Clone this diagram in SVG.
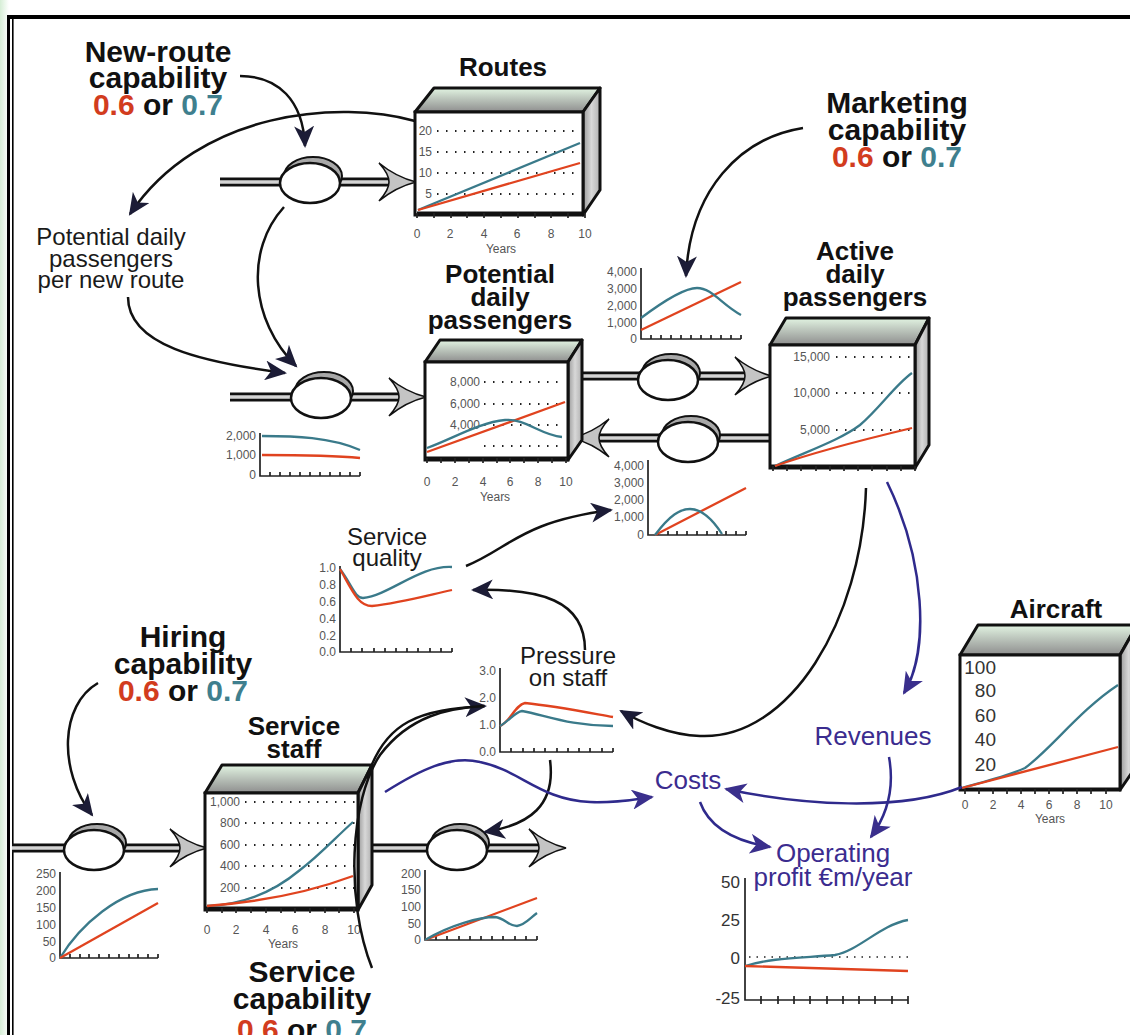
<svg xmlns="http://www.w3.org/2000/svg" width="1130" height="1035" viewBox="0 0 1130 1035">
<style>
text{font-family:"Liberation Sans",Arial,sans-serif}
.cap{font-weight:bold;font-size:30px;fill:#111;text-anchor:middle}
.ttl{font-weight:bold;font-size:26px;fill:#111;text-anchor:middle}
.lbl{font-size:24px;fill:#1a1a1a;text-anchor:middle}
.pl{font-size:26px;fill:#3b2c8f;text-anchor:middle}
.tk{font-size:12px;fill:#555;text-anchor:end}
.tx{font-size:12px;fill:#555;text-anchor:middle}
.tkb{font-size:19px;fill:#333;text-anchor:end}
.r{fill:#d23c1e}.b{fill:#3f7f8e}
.red{stroke:#e0431f;stroke-width:2.3;fill:none}
.blu{stroke:#3a7a8a;stroke-width:2.3;fill:none}
.ax{stroke:#222;stroke-width:1.7;fill:none}
.axb{stroke:#111;stroke-width:3;fill:none}
.dot{stroke:#222;stroke-width:2;stroke-dasharray:1.5 7.5;fill:none}
.arr{stroke:#111;stroke-width:2.5;fill:none}
.parr{stroke:#2f2a8c;stroke-width:2.5;fill:none}
.po{stroke:#111;stroke-width:9;fill:none}
.pi{stroke:#d4d4d4;stroke-width:3.5;fill:none}
.chev{fill:#c4c4c4;stroke:#111;stroke-width:1.6}
.vb{fill:#a8a8a8;stroke:#111;stroke-width:2}
.vf{fill:#fff;stroke:#111;stroke-width:2.5}
.front{fill:#fff;stroke:#111;stroke-width:3}
.top{fill:url(#gt);stroke:#111;stroke-width:3;stroke-linejoin:round}
.side{fill:url(#gs);stroke:#111;stroke-width:3;stroke-linejoin:round}
</style>
<defs>
<linearGradient id="gt" x1="0" y1="0" x2="0" y2="1"><stop offset="0" stop-color="#e2f4e2"/><stop offset="0.35" stop-color="#c4cfc4"/><stop offset="1" stop-color="#8e8e8e"/></linearGradient>
<linearGradient id="gs" x1="0" y1="0" x2="1" y2="0"><stop offset="0" stop-color="#9a9a9a"/><stop offset="0.5" stop-color="#d8d8d8"/><stop offset="1" stop-color="#b0b0b0"/></linearGradient>
<linearGradient id="gbg" x1="0" y1="0" x2="1" y2="0"><stop offset="0" stop-color="#d6eed6"/><stop offset="1" stop-color="#ffffff"/></linearGradient>
<marker id="ab" markerUnits="userSpaceOnUse" markerWidth="24" markerHeight="20" refX="20" refY="10" orient="auto"><path d="M0,0 L22,10 L0,20 L6,10 z" fill="#1c1c36"/></marker>
<marker id="ap" markerUnits="userSpaceOnUse" markerWidth="24" markerHeight="20" refX="20" refY="10" orient="auto"><path d="M0,0 L22,10 L0,20 L6,10 z" fill="#3a2f8c"/></marker>
</defs>
<rect width="1130" height="1035" fill="#fff"/>
<rect width="9" height="1035" fill="url(#gbg)"/>
<g id="frame">
<rect x="7" y="15" width="1123" height="4" fill="#000"/>
<rect x="7" y="15" width="3" height="1020" fill="#000"/>
<rect x="12" y="19" width="1.6" height="1016" fill="#000"/>
</g>

<g id="flows">
<path class="po" d="M220,182 H392"/><path class="pi" d="M220,182 H392"/>
<path class="chev" d="M379,163 Q396,177 416,182 Q396,187 379,201 Q389,190 389,182 Q389,174 379,163 z"/>
<path class="po" d="M230,397 H400"/><path class="pi" d="M230,397 H400"/>
<path class="chev" d="M389,378 Q406,392 426,397 Q406,402 389,416 Q399,405 399,397 Q399,389 389,378 z"/>
<path class="po" d="M575,376 H745"/><path class="pi" d="M575,376 H745"/>
<path class="chev" d="M735,357 Q752,371 772,376 Q752,381 735,395 Q745,384 745,376 Q745,368 735,357 z"/>
<path class="po" d="M772,438 H600"/><path class="pi" d="M772,438 H600"/>
<path class="chev" d="M609,419 Q592,433 572,438 Q592,443 609,457 Q599,446 599,438 Q599,430 609,419 z"/>
<path class="po" d="M12,848 H182"/><path class="pi" d="M12,848 H182"/>
<path class="chev" d="M170,829 Q187,843 207,848 Q187,853 170,867 Q180,856 180,848 Q180,840 170,829 z"/>
<path class="po" d="M365,848 H540"/><path class="pi" d="M365,848 H540"/>
<path class="chev" d="M529,829 Q546,843 566,848 Q546,853 529,867 Q539,856 539,848 Q539,840 529,829 z"/>
</g>

<g id="valve-new-routes"><ellipse class="vb" cx="313" cy="176" rx="29" ry="19"/><ellipse class="vf" cx="310" cy="183" rx="30" ry="20"/></g>
<g id="valve-new-passengers"><ellipse class="vb" cx="324" cy="391" rx="29" ry="19"/><ellipse class="vf" cx="321" cy="398" rx="30" ry="20"/></g>
<g id="valve-win"><ellipse class="vb" cx="671" cy="373" rx="29" ry="19"/><ellipse class="vf" cx="668" cy="380" rx="30" ry="20"/></g>
<g id="valve-lose"><ellipse class="vb" cx="691" cy="435" rx="29" ry="19"/><ellipse class="vf" cx="688" cy="442" rx="30" ry="20"/></g>
<g id="valve-hiring"><ellipse class="vb" cx="97" cy="843" rx="29" ry="19"/><ellipse class="vf" cx="94" cy="850" rx="30" ry="20"/></g>
<g id="valve-attrition"><ellipse class="vb" cx="460" cy="843" rx="29" ry="19"/><ellipse class="vf" cx="457" cy="850" rx="30" ry="20"/></g>

<g id="routes">
<text class="ttl" x="503" y="76">Routes</text>
<polygon class="top" points="415,112 583,112 600,88 434,88"/>
<polygon class="side" points="583,112 600,88 600,190 583,215"/>
<rect class="front" x="415" y="112" width="168" height="103"/>
<g class="tk"><text x="432" y="135">20</text><text x="432" y="156">15</text><text x="432" y="177">10</text><text x="432" y="198">5</text></g>
<path class="dot" d="M437,131 H580 M437,152 H580 M437,173 H580 M437,194 H580"/>
<path class="axb" d="M417,213 H583"/>
<path class="ax" d="M417,213v5M434,213v5M451,213v5M467,213v5M484,213v5M501,213v5M518,213v5M535,213v5M551,213v5M568,213v5M585,213v5"/>
<g class="tx"><text x="417" y="238">0</text><text x="450" y="238">2</text><text x="484" y="238">4</text><text x="517" y="238">6</text><text x="551" y="238">8</text><text x="585" y="238">10</text><text x="501" y="253">Years</text></g>
<path class="blu" d="M418,210 L580,143"/><path class="red" d="M418,210 L580,163"/>
</g>

<g id="potential-passengers">
<text class="ttl" x="500" y="283">Potential</text><text class="ttl" x="500" y="306">daily</text><text class="ttl" x="500" y="329">passengers</text>
<polygon class="top" points="425,362 568,362 582,340 440,340"/>
<polygon class="side" points="568,362 582,340 582,440 568,460"/>
<rect class="front" x="425" y="362" width="143" height="98"/>
<g class="tk"><text x="480" y="386">8,000</text><text x="480" y="408">6,000</text><text x="480" y="429">4,000</text></g>
<path class="dot" d="M484,382 H565 M484,404 H565 M484,425 H565 M484,446 H565"/>
<path class="axb" d="M426,458 H568"/>
<path class="ax" d="M427,458v5M441,458v5M455,458v5M469,458v5M483,458v5M497,458v5M510,458v5M524,458v5M538,458v5M552,458v5M566,458v5"/>
<g class="tx"><text x="427" y="486">0</text><text x="455" y="486">2</text><text x="483" y="486">4</text><text x="510" y="486">6</text><text x="538" y="486">8</text><text x="566" y="486">10</text><text x="495" y="501">Years</text></g>
<path class="red" d="M427,452 L565,402"/>
<path class="blu" d="M427,448 C450,440 480,422 505,420 C525,418 540,435 562,437"/>
</g>

<g id="active-passengers">
<text class="ttl" x="855" y="260">Active</text><text class="ttl" x="855" y="283">daily</text><text class="ttl" x="855" y="306">passengers</text>
<polygon class="top" points="770,345 915,345 929,318 786,318"/>
<polygon class="side" points="915,345 929,318 929,445 915,468"/>
<rect class="front" x="770" y="345" width="145" height="123"/>
<g class="tk"><text x="830" y="361">15,000</text><text x="830" y="397">10,000</text><text x="830" y="434">5,000</text></g>
<path class="dot" d="M836,357 H912 M836,393 H912 M836,430 H912"/>
<path class="axb" d="M771,466 H915"/>
<path class="ax" d="M773,466v5M787,466v5M801,466v5M816,466v5M830,466v5M844,466v5M858,466v5M872,466v5M887,466v5M901,466v5M915,466v5"/>
<path class="blu" d="M775,466 C810,450 840,440 860,425 C880,408 895,385 912,373"/>
<path class="red" d="M775,466 C820,450 870,438 912,428"/>
</g>

<g id="service-staff">
<text class="ttl" x="294" y="735">Service</text><text class="ttl" x="294" y="758">staff</text>
<polygon class="top" points="205,793 358,793 372,765 222,765"/>
<polygon class="side" points="358,793 372,765 372,885 358,910"/>
<rect class="front" x="205" y="793" width="153" height="117"/>
<g class="tk"><text x="240" y="806">1,000</text><text x="240" y="827">800</text><text x="240" y="849">600</text><text x="240" y="870">400</text><text x="240" y="892">200</text></g>
<path class="dot" d="M245,802 H355 M245,823 H355 M245,845 H355 M245,866 H355 M245,888 H355"/>
<path class="axb" d="M206,908 H358"/>
<path class="ax" d="M207,908v5M222,908v5M236,908v5M251,908v5M266,908v5M281,908v5M295,908v5M310,908v5M325,908v5M339,908v5M354,908v5"/>
<g class="tx"><text x="207" y="934">0</text><text x="236" y="934">2</text><text x="266" y="934">4</text><text x="295" y="934">6</text><text x="325" y="934">8</text><text x="354" y="934">10</text><text x="283" y="948">Years</text></g>
<path class="blu" d="M207,906 C240,905 270,895 300,870 C320,855 335,838 353,822"/>
<path class="red" d="M207,906 C260,902 310,892 353,876"/>
</g>

<g id="aircraft">
<text class="ttl" x="1056" y="618">Aircraft</text>
<polygon class="top" points="960,655 1120,655 1137,625 978,625"/>
<polygon class="side" points="1120,655 1137,625 1137,765 1120,790"/>
<rect class="front" x="960" y="655" width="160" height="135"/>
<g class="tkb"><text x="996" y="674">100</text><text x="996" y="697">80</text><text x="996" y="722">60</text><text x="996" y="746">40</text><text x="996" y="771">20</text></g>
<path class="axb" d="M961,789 H1120"/>
<path class="ax" d="M965,789v5M979,789v5M993,789v5M1007,789v5M1021,789v5M1035,789v5M1049,789v5M1063,789v5M1077,789v5M1091,789v5M1106,789v5"/>
<g class="tx"><text x="965" y="809">0</text><text x="993" y="809">2</text><text x="1021" y="809">4</text><text x="1049" y="809">6</text><text x="1077" y="809">8</text><text x="1106" y="809">10</text><text x="1050" y="823">Years</text></g>
<path class="blu" d="M962,788 C990,780 1010,775 1025,768 C1050,750 1080,710 1118,685"/>
<path class="red" d="M962,788 L1118,747"/>
</g>

<g id="new-route-capability">
<text class="cap" x="158" y="62">New-route</text><text class="cap" x="158" y="88">capability</text>
<text class="cap" x="158" y="115"><tspan class="r">0.6</tspan> or <tspan class="b">0.7</tspan></text>
</g>
<g id="marketing-capability">
<text class="cap" x="897" y="113">Marketing</text><text class="cap" x="897" y="140">capability</text>
<text class="cap" x="897" y="167"><tspan class="r">0.6</tspan> or <tspan class="b">0.7</tspan></text>
</g>
<g id="hiring-capability">
<text class="cap" x="183" y="647">Hiring</text><text class="cap" x="183" y="674">capability</text>
<text class="cap" x="183" y="701"><tspan class="r">0.6</tspan> or <tspan class="b">0.7</tspan></text>
</g>
<g id="service-capability">
<text class="cap" x="302" y="982">Service</text><text class="cap" x="302" y="1009">capability</text>
<text class="cap" x="302" y="1040"><tspan class="r">0.6</tspan> or <tspan class="b">0.7</tspan></text>
</g>

<g id="per-new-route">
<text class="lbl" x="111" y="245">Potential daily</text><text class="lbl" x="111" y="267">passengers</text><text class="lbl" x="111" y="288">per new route</text>
<path class="ax" d="M260,433 V476 H360 M270,476v-4M280,476v-4M290,476v-4M300,476v-4M310,476v-4M320,476v-4M330,476v-4M340,476v-4M350,476v-4M360,476v-4"/>
<g class="tk"><text x="256" y="440">2,000</text><text x="256" y="459">1,000</text><text x="256" y="479">0</text></g>
<path class="blu" d="M262,436 C295,436 330,437 360,450"/>
<path class="red" d="M262,455 C300,455 330,455 360,458"/>
</g>

<g id="win-rate-chart">
<path class="ax" d="M641,268 V339 H741 M651,339v-4M661,339v-4M671,339v-4M681,339v-4M691,339v-4M701,339v-4M711,339v-4M721,339v-4M731,339v-4M741,339v-4"/>
<g class="tk"><text x="637" y="276">4,000</text><text x="637" y="293">3,000</text><text x="637" y="310">2,000</text><text x="637" y="327">1,000</text><text x="637" y="343">0</text></g>
<path class="red" d="M641,330 L741,282"/>
<path class="blu" d="M641,318 C665,300 685,288 697,288 C712,288 722,305 741,315"/>
</g>

<g id="lose-rate-chart">
<path class="ax" d="M648,460 V535 H746 M658,535v-4M668,535v-4M677,535v-4M687,535v-4M697,535v-4M707,535v-4M717,535v-4M726,535v-4M736,535v-4M746,535v-4"/>
<g class="tk"><text x="644" y="470">4,000</text><text x="644" y="487">3,000</text><text x="644" y="504">2,000</text><text x="644" y="521">1,000</text><text x="644" y="539">0</text></g>
<path class="red" d="M655,535 L746,488"/>
<path class="blu" d="M655,535 C670,515 680,509 690,509 C703,509 713,520 722,534"/>
</g>

<g id="service-quality">
<text class="lbl" x="387" y="545">Service</text><text class="lbl" x="387" y="566">quality</text>
<path class="ax" d="M340,566 V652 H452 M351,652v-4M362,652v-4M374,652v-4M385,652v-4M396,652v-4M407,652v-4M418,652v-4M430,652v-4M441,652v-4M452,652v-4"/>
<g class="tk"><text x="336" y="572">1.0</text><text x="336" y="589">0.8</text><text x="336" y="606">0.6</text><text x="336" y="623">0.4</text><text x="336" y="640">0.2</text><text x="336" y="656">0.0</text></g>
<path class="blu" d="M340,569 C352,585 355,598 363,598 C390,595 420,565 452,567"/>
<path class="red" d="M340,569 C352,590 358,606 372,606 C400,603 425,596 452,590"/>
</g>

<g id="pressure-on-staff">
<text class="lbl" x="568" y="664">Pressure</text><text class="lbl" x="568" y="686">on staff</text>
<path class="ax" d="M500,668 V752 H613 M511,752v-4M523,752v-4M534,752v-4M545,752v-4M557,752v-4M568,752v-4M579,752v-4M590,752v-4M602,752v-4M613,752v-4"/>
<g class="tk"><text x="496" y="675">3.0</text><text x="496" y="702">2.0</text><text x="496" y="729">1.0</text><text x="496" y="756">0.0</text></g>
<path class="red" d="M500,726 C510,722 515,705 525,703 C555,706 585,712 613,717"/>
<path class="blu" d="M500,726 C510,720 515,712 522,711 C545,715 570,726 613,726"/>
</g>

<g id="hiring-chart">
<path class="ax" d="M60,872 V958 H158 M70,958v-4M80,958v-4M89,958v-4M99,958v-4M109,958v-4M119,958v-4M129,958v-4M138,958v-4M148,958v-4M158,958v-4"/>
<g class="tk"><text x="56" y="878">250</text><text x="56" y="895">200</text><text x="56" y="912">150</text><text x="56" y="929">100</text><text x="56" y="946">50</text><text x="56" y="962">0</text></g>
<path class="blu" d="M60,958 C80,925 120,890 158,889"/>
<path class="red" d="M60,958 L158,903"/>
</g>

<g id="attrition-chart">
<path class="ax" d="M425,870 V940 H537 M436,940v-4M447,940v-4M459,940v-4M470,940v-4M481,940v-4M492,940v-4M503,940v-4M515,940v-4M526,940v-4M537,940v-4"/>
<g class="tk"><text x="421" y="878">200</text><text x="421" y="894">150</text><text x="421" y="911">100</text><text x="421" y="928">50</text><text x="421" y="944">0</text></g>
<path class="red" d="M425,940 L537,898"/>
<path class="blu" d="M425,940 C450,925 480,917 495,917 C505,918 508,926 517,926 C525,925 530,918 537,913"/>
</g>

<g id="revenues"><text class="pl" x="873" y="745">Revenues</text></g>
<g id="costs"><text class="pl" x="688" y="789">Costs</text></g>
<g id="operating-profit">
<text class="pl" x="833" y="862">Operating</text><text class="pl" x="833" y="886">profit €m/year</text>
<path class="ax" d="M745,878 V1000 H908 M761,996v8M778,996v8M794,996v8M810,996v8M827,996v8M843,996v8M859,996v8M875,996v8M892,996v8M908,996v8"/>
<path class="dot" d="M749,957 H908" style="stroke-width:1.5;stroke-dasharray:1.5 6"/>
<g class="tkb" style="font-size:17px"><text x="740" y="888">50</text><text x="740" y="926">25</text><text x="740" y="964">0</text><text x="740" y="1004">-25</text></g>
<path class="blu" d="M745,966 C770,958 800,958 835,955 C860,950 880,925 908,920"/>
<path class="red" d="M745,966 L908,971"/>
</g>

<g id="connectors">
<path class="arr" marker-end="url(#ab)" d="M240,76 C278,76 303,100 305,146"/>
<path class="arr" marker-end="url(#ab)" d="M415,121 C340,100 200,110 130,214"/>
<path class="arr" marker-end="url(#ab)" d="M284,207 C245,250 250,320 296,366"/>
<path class="arr" marker-end="url(#ab)" d="M128,297 C128,345 200,362 285,373"/>
<path class="arr" marker-end="url(#ab)" d="M803,128 C740,138 690,190 686,276"/>
<path class="arr" marker-end="url(#ab)" d="M466,566 C510,548 520,522 611,510"/>
<path class="arr" marker-end="url(#ab)" d="M585,650 C585,600 540,588 473,590"/>
<path class="arr" marker-end="url(#ab)" d="M866,488 C862,620 790,740 700,736 C670,735 640,722 621,711"/>
<path class="arr" marker-end="url(#ab)" d="M98,683 C60,705 58,770 92,815"/>
<path class="arr" marker-end="url(#ab)" d="M367,778 C385,720 420,710 485,706"/>
<path class="arr" d="M372,968 C345,900 350,800 380,755 C410,715 450,708 484,706"/>
<path class="arr" marker-end="url(#ab)" d="M550,760 C556,805 530,825 485,832"/>
<path class="parr" marker-end="url(#ap)" d="M887,482 C925,560 930,650 904,693"/>
<path class="parr" marker-end="url(#ap)" d="M385,792 C420,770 450,755 480,762 C520,770 540,800 590,802 C615,803 630,800 652,797"/>
<path class="parr" marker-end="url(#ap)" d="M962,787 C900,812 800,805 726,789"/>
<path class="parr" marker-end="url(#ap)" d="M700,802 C710,830 740,842 770,847"/>
<path class="parr" marker-end="url(#ap)" d="M889,757 C895,790 887,815 871,837"/>
</g>
</svg>
